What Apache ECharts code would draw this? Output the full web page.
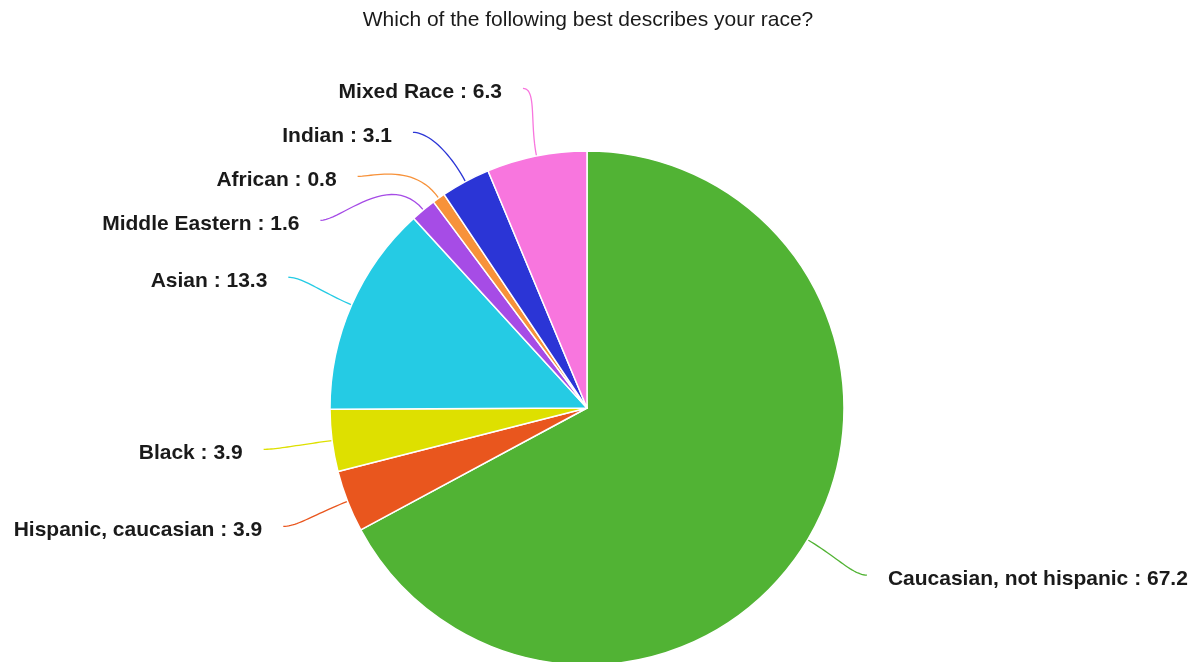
<!DOCTYPE html>
<html>
<head>
<meta charset="utf-8">
<script src="https://cdn.jsdelivr.net/npm/echarts@6/dist/echarts.min.js"></script>
<style>
  html, body { margin: 0; padding: 0; background: #fff; }
  #chart { width: 1203px; height: 662px; }
</style>
</head>
<body>
<div id="chart"></div>
<script>
// Survey answers, percentages of respondents (clockwise from 12 o'clock)
const categories = [
  'Caucasian, not hispanic',
  'Hispanic, caucasian',
  'Black',
  'Asian',
  'Middle Eastern',
  'African',
  'Indian',
  'Mixed Race'
];
const values = [67.2, 3.9, 3.9, 13.3, 1.6, 0.8, 3.1, 6.3];
const colors = ['#51b334', '#e9561e', '#dee000', '#25cbe4', '#a64ce6', '#f7923a', '#2b35d6', '#f876de'];

// Pie geometry
const CX = 587, CY = 408, R = 257;
const END_R = 326;       // circle on which the leader lines end
const PULL_OUT = 0.5;    // radial control length near the slice (share of chord)
const PULL_IN = 0.2;     // horizontal control length near the label (share of chord)
const MIN_GAP = 44;      // minimum vertical distance between stacked labels
const LABEL_PAD = 21;    // gap between line end and text

// Mid angle of each slice (degrees, clockwise from top)
const total = values.reduce((a, b) => a + b, 0);
const midAngles = [];
let acc = 0;
values.forEach(v => { midAngles.push((acc + v / 2) / total * 360); acc += v; });

const pt = (deg, r) => {
  const a = deg * Math.PI / 180;
  return [CX + r * Math.sin(a), CY - r * Math.cos(a)];
};

// Place the line ends on a circle, pushing stacked labels apart on each side
const ends = midAngles.map(a => pt(a, END_R));
const sides = midAngles.map(a => (a % 360) < 180 ? 1 : -1);
[1, -1].forEach(side => {
  const idx = ends.map((_, i) => i).filter(i => sides[i] === side)
    .sort((a, b) => ends[a][1] - ends[b][1]);
  let prevY = -Infinity;
  idx.forEach(i => {
    const y = Math.max(ends[i][1], prevY + MIN_GAP);
    const dy = y - CY;
    const dx = Math.sqrt(Math.max(0, END_R * END_R - dy * dy));
    ends[i] = [CX + side * dx, y];
    prevY = y;
  });
});

// Leader line: cubic curve leaving the slice radially and arriving horizontally
function leader(i) {
  const p0 = pt(midAngles[i], R);
  const p3 = ends[i];
  const chord = Math.hypot(p3[0] - p0[0], p3[1] - p0[1]);
  const p1 = pt(midAngles[i], R + PULL_OUT * chord);
  const p2 = [p3[0] - sides[i] * PULL_IN * chord, p3[1]];
  const pts = [];
  for (let s = 0; s <= 24; s++) {
    const t = s / 24, u = 1 - t;
    const a = u * u * u, b = 3 * u * u * t, c = 3 * u * t * t, d = t * t * t;
    pts.push([
      a * p0[0] + b * p1[0] + c * p2[0] + d * p3[0],
      a * p0[1] + b * p1[1] + c * p2[1] + d * p3[1]
    ]);
  }
  return pts;
}

const chart = echarts.init(document.getElementById('chart'));
chart.setOption({
  animation: false,
  backgroundColor: '#ffffff',
  title: {
    text: 'Which of the following best describes your race?',
    left: 583,
    textAlign: 'center',
    top: 5,
    textStyle: {
      fontFamily: 'Liberation Sans, Arial, sans-serif',
      fontSize: 21,
      fontWeight: 'normal',
      color: '#1a1a1a'
    }
  },
  series: [{
    type: 'pie',
    center: [CX, CY],
    radius: [0, R],
    startAngle: 90,
    clockwise: true,
    data: categories.map((name, i) => ({
      name: name,
      value: values[i],
      itemStyle: { color: colors[i] },
      labelLine: { lineStyle: { color: colors[i] } }
    })),
    itemStyle: { borderColor: '#ffffff', borderWidth: 1.5 },
    label: {
      show: true,
      position: 'outside',
      formatter: '{b} : {c}',
      fontFamily: 'Liberation Sans, Arial, sans-serif',
      fontSize: 21,
      fontWeight: 'bold',
      color: '#1a1a1a'
    },
    labelLine: {
      show: true,
      length: 30,
      length2: 20,
      smooth: false,
      lineStyle: { width: 1.3 }
    },
    labelLayout: function (params) {
      const i = params.dataIndex;
      const e = ends[i];
      const side = sides[i];
      return {
        x: e[0] + side * LABEL_PAD,
        y: e[1] + 4,
        align: side > 0 ? 'left' : 'right',
        verticalAlign: 'middle',
        labelLinePoints: leader(i)
      };
    },
    emphasis: { disabled: true }
  }]
});
</script>
</body>
</html>
